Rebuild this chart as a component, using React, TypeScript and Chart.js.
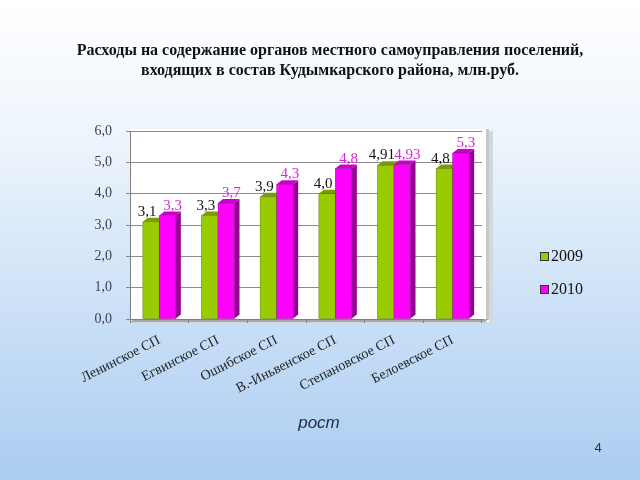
import { useEffect, useRef } from 'react';
import { Chart, registerables } from 'chart.js';

Chart.register(...registerables);

const categories = ['Ленинское СП', 'Егвинское СП', 'Ошибское СП', 'В.-Иньвенское СП', 'Степановское СП', 'Белоевское СП'];
const series2009 = [3.1, 3.3, 3.9, 4.0, 4.91, 4.8];
const series2010 = [3.3, 3.7, 4.3, 4.8, 4.93, 5.3];
const seriesNames = ['2009', '2010'];
const titleLines = ['Расходы на содержание органов местного самоуправления поселений,', 'входящих в состав Кудымкарского района, млн.руб.'];
const footerText = 'рост';
const pageNumber = '4';

const FRONT = ['#99CC00', '#FF00FF'];
const SIDE = ['#5F8000', '#990099'];
const TOP = ['#7A9E00', '#CC00CC'];
const LABEL_COLORS = ['#111111', '#DD22DD'];
const SERIF = '"Liberation Serif", "Times New Roman", serif';
const SANS = '"Liberation Sans", Arial, sans-serif';

const fmt = (v: number) => (Number.isInteger(v) ? v.toFixed(1) : String(v)).replace('.', ',');

export default function App() {
  const ref = useRef<HTMLCanvasElement | null>(null);

  useEffect(() => {
    document.body.style.margin = '0';
    const canvas = ref.current;
    if (!canvas) return;
    const DX = 5;
    const DY = 4;

    const bgPlugin = {
      id: 'bg',
      beforeDraw(chart: any) {
        const { ctx, chartArea: a } = chart;
        ctx.save();
        const g = ctx.createLinearGradient(0, 0, 0, chart.height);
        g.addColorStop(0, '#FFFFFF');
        g.addColorStop(0.3, '#EDF4FC');
        g.addColorStop(0.7, '#C6DDF6');
        g.addColorStop(1, '#ABCDF1');
        ctx.fillStyle = g;
        ctx.fillRect(0, 0, chart.width, chart.height);
        // plot box
        ctx.fillStyle = '#D0D8E0';
        ctx.fillRect(a.left + 2, a.top, a.right - a.left + 9, a.bottom - a.top + 5);
        ctx.fillStyle = '#FFFFFF';
        ctx.fillRect(a.left, a.top - 2, a.right - a.left + 7, a.bottom - a.top + 5);
        // floor
        ctx.fillStyle = '#A8A8A8';
        ctx.beginPath();
        ctx.moveTo(a.left, a.bottom + 3);
        ctx.lineTo(a.left + 4, a.bottom);
        ctx.lineTo(a.right + 7, a.bottom);
        ctx.lineTo(a.right + 3, a.bottom + 3);
        ctx.closePath();
        ctx.fill();
        // right wall
        ctx.fillStyle = '#C8C8C8';
        ctx.fillRect(a.right + 4, a.top - 2, 3, a.bottom - a.top + 2);
        ctx.restore();
      },
    };

    const barsPlugin = {
      id: 'bars3d',
      afterDatasetsDraw(chart: any) {
        const { ctx } = chart;
        const metas = [0, 1].map((i) => chart.getDatasetMeta(i));
        ctx.save();
        for (let j = 0; j < categories.length; j++) {
          metas.forEach((meta: any, d: number) => {
            const el = meta.data[j];
            const { x, y, base, width } = el.getProps(['x', 'y', 'base', 'width'], true);
            const l = x - width / 2;
            const r = x + width / 2;
            ctx.fillStyle = FRONT[d];
            ctx.fillRect(l, y, width, base - y);
            ctx.fillStyle = SIDE[d];
            ctx.beginPath();
            ctx.moveTo(r, y);
            ctx.lineTo(r + DX, y - DY);
            ctx.lineTo(r + DX, base - DY);
            ctx.lineTo(r, base);
            ctx.closePath();
            ctx.fill();
            ctx.fillStyle = TOP[d];
            ctx.beginPath();
            ctx.moveTo(l, y);
            ctx.lineTo(l + DX, y - DY);
            ctx.lineTo(r + DX, y - DY);
            ctx.lineTo(r, y);
            ctx.closePath();
            ctx.fill();
            ctx.strokeStyle = 'rgba(40,40,40,0.35)';
            ctx.lineWidth = 0.7;
            ctx.strokeRect(l, y, width, base - y);
          });
        }
        // data labels
        ctx.font = `15px ${SERIF}`;
        ctx.textAlign = 'center';
        ctx.textBaseline = 'alphabetic';
        metas.forEach((meta: any, d: number) => {
          const values = chart.data.datasets[d].data as number[];
          meta.data.forEach((el: any, j: number) => {
            const { x, y } = el.getProps(['x', 'y'], true);
            ctx.fillStyle = LABEL_COLORS[d];
            ctx.fillText(fmt(values[j]), x + (d === 0 ? -4 : 5), y - 6);
          });
        });
        ctx.restore();
      },
      afterDraw(chart: any) {
        const { ctx } = chart;
        ctx.save();
        // legend
        ctx.font = `16px ${SERIF}`;
        ctx.textBaseline = 'middle';
        ctx.textAlign = 'left';
        const ly = [256, 289];
        seriesNames.forEach((name, i) => {
          ctx.fillStyle = FRONT[i];
          ctx.fillRect(541, ly[i] - 3, 7, 7);
          ctx.strokeStyle = '#333';
          ctx.lineWidth = 1;
          ctx.strokeRect(540.5, ly[i] - 3.5, 8, 8);
          ctx.fillStyle = '#111';
          ctx.fillText(name, 551, ly[i] + 1);
        });
        // footer text
        ctx.font = `italic 17px ${SANS}`;
        ctx.fillStyle = '#1E2A44';
        ctx.textAlign = 'center';
        ctx.fillText(footerText, 319, 423);
        // page number
        ctx.font = `13px ${SANS}`;
        ctx.fillStyle = '#333';
        ctx.fillText(pageNumber, 598, 448);
        ctx.restore();
      },
    };

    const chart = new Chart(canvas, {
      type: 'bar',
      data: {
        labels: categories,
        datasets: [
          { label: seriesNames[0], data: series2009, backgroundColor: FRONT[0], yAxisID: 'y' },
          { label: seriesNames[1], data: series2010, backgroundColor: FRONT[1], yAxisID: 'y' },
        ],
      },
      options: {
        responsive: false,
        animation: false,
        events: [],
        categoryPercentage: 0.5625,
        barPercentage: 1.0,
        layout: { padding: { left: 20, right: 0, top: 0, bottom: 71 } },
        plugins: {
          legend: { display: false },
          tooltip: { enabled: false },
          title: {
            display: true,
            text: titleLines,
            color: '#111',
            font: { family: SERIF, size: 16, weight: 'bold', lineHeight: 1.3 },
            padding: { top: 40, bottom: 49.4 },
          },
        },
        scales: {
          x: {
            grid: { drawOnChartArea: false, offset: true, tickLength: 4, color: '#808080' },
            border: { display: true, color: '#808080' },
            ticks: {
              autoSkip: false,
              minRotation: 27,
              maxRotation: 27,
              padding: 9,
              color: '#222',
              font: { family: SERIF, size: 14 },
            },
            afterFit: (s: any) => { s.height = 90; },
          },
          y: {
            min: 0,
            max: 6,
            position: 'left',
            ticks: {
              stepSize: 1,
              padding: 14,
              color: '#3A3F50',
              font: { family: SERIF, size: 14 },
              callback: (v: any) => Number(v).toFixed(1).replace('.', ','),
            },
            grid: { color: '#8A8A8A', tickLength: 4 },
            border: { display: true, color: '#808080' },
            afterFit: (s: any) => { s.width = 110; },
          },
          yR: {
            type: 'linear',
            position: 'right',
            display: true,
            grid: { display: false, drawTicks: false },
            ticks: { display: false },
            border: { display: false },
            afterFit: (s: any) => { s.width = 158; },
          },
        },
      },
      plugins: [bgPlugin, barsPlugin],
    } as any);

    return () => chart.destroy();
  }, []);

  return <canvas ref={ref} width={640} height={480} style={{ display: 'block' }} />;
}
